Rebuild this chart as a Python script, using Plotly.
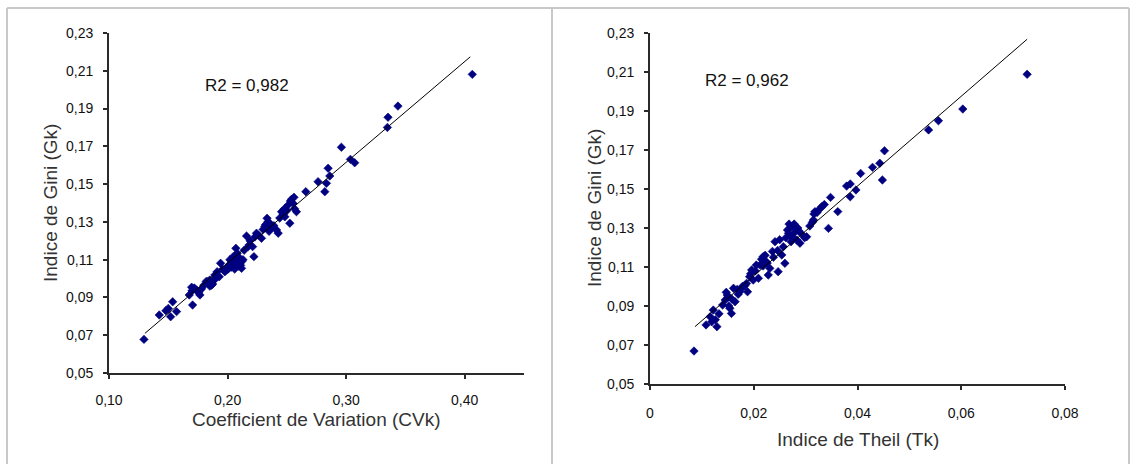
import plotly.graph_objects as go

W, H = 1132, 464

# ---------------- data ----------------
cv_x = [0.1295, 0.1424, 0.150, 0.152, 0.1537, 0.157, 0.148, 0.1677, 0.1697, 0.1705,
        0.1739, 0.1767, 0.1755, 0.1828, 0.185, 0.1874, 0.1893, 0.1912, 0.1941, 0.1977,
        0.2005, 0.2034, 0.2047, 0.207, 0.209, 0.2104, 0.2118, 0.2081, 0.216, 0.2182,
        0.2211, 0.2222, 0.2244, 0.2286, 0.2314, 0.2333, 0.2356, 0.2413, 0.2427, 0.2455,
        0.2483, 0.2525, 0.2511, 0.2553, 0.2581, 0.4064, 0.3437, 0.3353, 0.3348, 0.296,
        0.3036, 0.3072, 0.2848, 0.2763, 0.2862, 0.2834, 0.282, 0.266, 0.2540, 0.2560,
        0.1800, 0.1820, 0.1860, 0.1880, 0.1900, 0.1960, 0.1990, 0.2010, 0.2030, 0.2060,
        0.2080, 0.2100, 0.2060, 0.2120, 0.2140, 0.2190, 0.2230, 0.2260, 0.2300, 0.2340,
        0.2370, 0.2390, 0.2440, 0.2470, 0.2500, 0.1850, 0.1930, 0.2020, 0.2110, 0.1720,
        0.1700, 0.1780, 0.1835, 0.1865, 0.2005, 0.2045, 0.2095, 0.2130, 0.2175, 0.2320,
        0.2350, 0.2480, 0.2530, 0.2565]
cv_y = [0.0678, 0.0807, 0.0842, 0.0798, 0.0877, 0.0825, 0.0830, 0.0913, 0.0954, 0.0860,
        0.0939, 0.0913, 0.0925, 0.0975, 0.0992, 0.0971, 0.1019, 0.1036, 0.1081, 0.1036,
        0.1063, 0.1089, 0.1116, 0.1160, 0.1072, 0.1107, 0.1054, 0.1134, 0.1225, 0.1178,
        0.1169, 0.1116, 0.1240, 0.1213, 0.1275, 0.1319, 0.1293, 0.1257, 0.1240, 0.1354,
        0.1327, 0.1293, 0.1389, 0.1398, 0.1354, 0.2081, 0.1913, 0.1854, 0.1800, 0.1695,
        0.1631, 0.1613, 0.1584, 0.1513, 0.1543, 0.1504, 0.1460, 0.1460, 0.1420, 0.1430,
        0.0965, 0.0985, 0.0975, 0.0990, 0.1000, 0.1050, 0.1045, 0.1070, 0.1060, 0.1085,
        0.1095, 0.1080, 0.1050, 0.1090, 0.1150, 0.1200, 0.1220, 0.1230, 0.1260, 0.1300,
        0.1270, 0.1280, 0.1320, 0.1340, 0.1360, 0.0960, 0.1010, 0.1100, 0.1070, 0.0950,
        0.0935, 0.0945, 0.0985, 0.0965, 0.1050, 0.1075, 0.1065, 0.1100, 0.1170, 0.1285,
        0.1250, 0.1370, 0.1410, 0.1370]

theil_x = [0.00848, 0.0108, 0.0116, 0.0122, 0.0119, 0.0129, 0.0145, 0.0149, 0.0154, 0.0157,
           0.0161, 0.0164, 0.0173, 0.0180, 0.0186, 0.0188, 0.0196, 0.0199, 0.0209, 0.0212,
           0.0218, 0.0224, 0.0228, 0.0231, 0.0241, 0.0247, 0.0254, 0.0260, 0.0257, 0.0267,
           0.0273, 0.0280, 0.0283, 0.0289, 0.0302, 0.0315, 0.0318, 0.0344, 0.0362, 0.0331,
           0.0727, 0.0603, 0.0556, 0.0537, 0.0452, 0.0443, 0.0448, 0.0429, 0.0406, 0.0386,
           0.0379, 0.0397, 0.0386, 0.0348, 0.0336, 0.0327, 0.0316, 0.0313, 0.0126, 0.0140,
           0.0150, 0.0170, 0.0178, 0.0192, 0.0203, 0.0215, 0.0222, 0.0236, 0.0250, 0.0262,
           0.0270, 0.0276, 0.0285, 0.0292, 0.0298, 0.0272, 0.0265, 0.0238, 0.0205, 0.0152,
           0.0133, 0.0147, 0.0158, 0.0168, 0.0183, 0.0194, 0.0218, 0.0226, 0.0246, 0.0268,
           0.0278, 0.0287, 0.0274, 0.0308, 0.0322]
theil_y = [0.0669, 0.0803, 0.0845, 0.0879, 0.0819, 0.0794, 0.0931, 0.0956, 0.0888, 0.0862,
           0.0991, 0.0922, 0.0973, 0.0999, 0.1016, 0.0973, 0.1085, 0.1033, 0.1042, 0.1110,
           0.1153, 0.1127, 0.1059, 0.1093, 0.1230, 0.1076, 0.1162, 0.1119, 0.1204, 0.1273,
           0.1307, 0.1281, 0.1238, 0.1222, 0.1255, 0.1341, 0.1384, 0.1298, 0.1384, 0.1409,
           0.2088, 0.1910, 0.1850, 0.1803, 0.1696, 0.1632, 0.1546, 0.1611, 0.1580, 0.1526,
           0.1515, 0.1495, 0.1460, 0.1457, 0.1420, 0.1397, 0.1372, 0.1329, 0.0830, 0.0905,
           0.0945, 0.0960, 0.1000, 0.1050, 0.1080, 0.1140, 0.1160, 0.1180, 0.1240, 0.1250,
           0.1260, 0.1310, 0.1300, 0.1270, 0.1250, 0.1230, 0.1290, 0.1150, 0.1110, 0.0900,
           0.0860, 0.0970, 0.0935, 0.0985, 0.1005, 0.1065, 0.1105, 0.1120, 0.1185, 0.1320,
           0.1320, 0.1285, 0.1255, 0.1310, 0.1380]

# trend lines (end points)
cv_trend_x = [0.1303, 0.4047]
cv_trend_y = [0.0710, 0.2174]
theil_trend_x = [0.00867, 0.0727]
theil_trend_y = [0.0794, 0.2268]

r2_left = "R2 = 0,982"
r2_right = "R2 = 0,962"

gini_ticks = [0.05, 0.07, 0.09, 0.11, 0.13, 0.15, 0.17, 0.19, 0.21, 0.23]
gini_ticktext = ["0,05", "0,07", "0,09", "0,11", "0,13", "0,15", "0,17", "0,19", "0,21", "0,23"]
cv_ticks = [0.10, 0.20, 0.30, 0.40]
cv_ticktext = ["0,10", "0,20", "0,30", "0,40"]
theil_ticks = [0, 0.02, 0.04, 0.06, 0.08]
theil_ticktext = ["0", "0,02", "0,04", "0,06", "0,08"]

# ---------------- figure ----------------
def px(x):
    return x / W

def py(y):
    return 1 - y / H

MARK = dict(symbol="diamond", size=6.5, color="#000080", line=dict(width=0.6, color="#000080"))
LINE = dict(color="#000000", width=1)

fig = go.Figure()
fig.add_trace(go.Scatter(x=cv_x, y=cv_y, mode="markers", marker=MARK, xaxis="x", yaxis="y"))
fig.add_trace(go.Scatter(x=cv_trend_x, y=cv_trend_y, mode="lines", line=LINE, xaxis="x", yaxis="y"))
fig.add_trace(go.Scatter(x=theil_x, y=theil_y, mode="markers", marker=MARK, xaxis="x2", yaxis="y2"))
fig.add_trace(go.Scatter(x=theil_trend_x, y=theil_trend_y, mode="lines", line=LINE, xaxis="x2", yaxis="y2"))

tickfont = dict(family="Liberation Sans, Arial, sans-serif", size=14, color="#111111")
axis_common = dict(showline=True, linecolor="#2a2a2a", linewidth=1.8, ticks="outside",
                   ticklen=4, tickwidth=1.8, tickcolor="#2a2a2a", showgrid=False,
                   zeroline=False, tickfont=tickfont, fixedrange=True, automargin=False)

fig.update_layout(
    width=W, height=H,
    margin=dict(l=0, r=0, t=0, b=0, pad=0, autoexpand=False),
    paper_bgcolor="white", plot_bgcolor="white",
    showlegend=False,
    xaxis=dict(domain=[px(109), px(524)], range=[0.10, 0.45], anchor="y",
               tickvals=cv_ticks, ticktext=cv_ticktext, ticklabelstandoff=9, **axis_common),
    yaxis=dict(domain=[py(373), py(33)], range=[0.05, 0.23], anchor="x",
               tickvals=gini_ticks, ticktext=gini_ticktext, ticklabelstandoff=7, **axis_common),
    xaxis2=dict(domain=[px(650), px(1065)], range=[0, 0.08], anchor="y2",
                tickvals=theil_ticks, ticktext=theil_ticktext, ticklabelstandoff=11, **axis_common),
    yaxis2=dict(domain=[py(384), py(33)], range=[0.05, 0.23], anchor="x2",
                tickvals=gini_ticks, ticktext=gini_ticktext, ticklabelstandoff=7, **axis_common),
)

titlefont = dict(family="Liberation Sans, Arial, sans-serif", size=19, color="#333333")
r2font = dict(family="Liberation Sans, Arial, sans-serif", size=17, color="#111111")

annots = [
    dict(text="Indice de Gini (Gk)", x=px(50), y=py(203), textangle=-90, font=titlefont),
    dict(text="Coefficient de Variation (CVk)", x=px(316), y=py(419), font=titlefont),
    dict(text="Indice de Gini (Gk)", x=px(594), y=py(208), textangle=-90, font=titlefont),
    dict(text="Indice de Theil (Tk)", x=px(858), y=py(439), font=titlefont),
    dict(text=r2_left, x=px(247), y=py(85), font=r2font),
    dict(text=r2_right, x=px(747), y=py(81), font=r2font),
]
for a in annots:
    fig.add_annotation(xref="paper", yref="paper", xanchor="center", yanchor="middle",
                       showarrow=False, **a)

frame = dict(color="#c8c8c8", width=2)
fig.add_shape(type="line", xref="paper", yref="paper", x0=px(7), x1=px(1129), y0=py(8), y1=py(8), line=frame)
fig.add_shape(type="line", xref="paper", yref="paper", x0=px(7), x1=px(7), y0=py(8), y1=0, line=frame)
fig.add_shape(type="line", xref="paper", yref="paper", x0=px(552), x1=px(552), y0=py(8), y1=0, line=frame)
fig.add_shape(type="line", xref="paper", yref="paper", x0=px(1129), x1=px(1129), y0=py(8), y1=0, line=frame)

fig.write_html("out.html",
               post_script="document.body.style.margin='0';document.body.style.padding='0';"
                           "document.documentElement.style.overflow='hidden';")
